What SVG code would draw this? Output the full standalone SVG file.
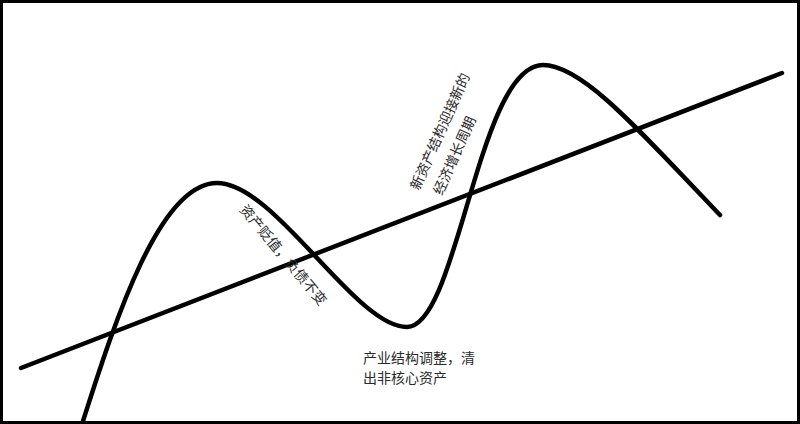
<svg xmlns="http://www.w3.org/2000/svg" width="800" height="424" viewBox="0 0 800 424">
<style>
.ln{fill:none;stroke:#000;stroke-width:4.5;stroke-linecap:round}
.t{font-family:"Liberation Sans","Noto Sans CJK SC",sans-serif;font-size:14px;fill:#2a2a2a}
</style>
<rect x="1.5" y="1.5" width="797" height="421" fill="#fff" stroke="#000" stroke-width="3"/>
<g id="connectors">
<path id="trend" class="ln" d="M21,368 L782,73"/>
<path id="cycle" class="ln" d="M83,421 C113,328 158,183 217,183 C275,183 355,327 407,327 C458,327 478,65 543,65 C580,65 630,120 720,215"/>
</g>
<g id="label-devalue">
<text class="t" transform="translate(239,210) rotate(50)">资产贬值，负债不变</text>
</g>
<g id="label-newcycle">
<text class="t" transform="translate(419,191) rotate(-66)">新资产结构迎接新的</text>
<text class="t" transform="translate(442,196) rotate(-66)">经济增长周期</text>
</g>
<g id="label-adjust">
<text class="t" x="363" y="363">产业结构调整，清</text>
<text class="t" x="363" y="383">出非核心资产</text>
</g>
</svg>
